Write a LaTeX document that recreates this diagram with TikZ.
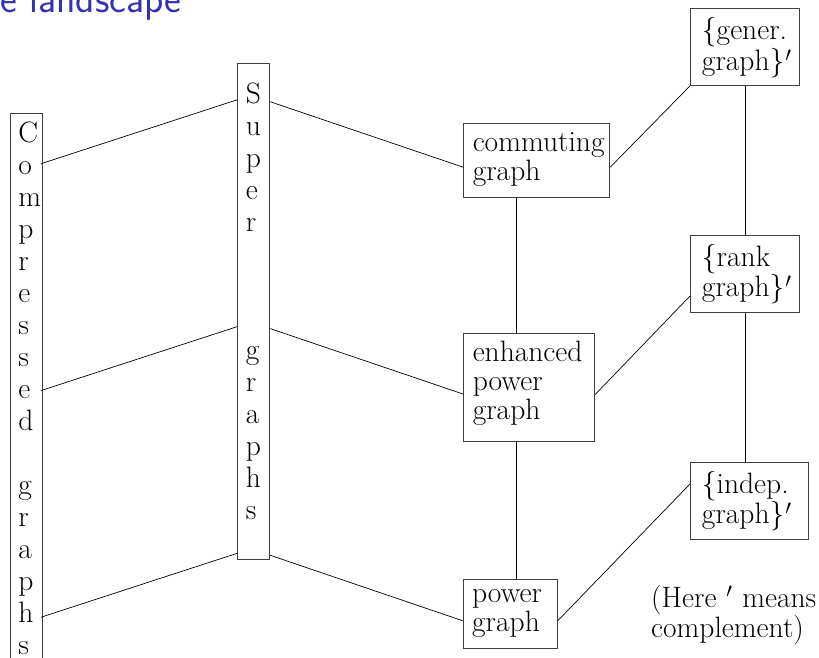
\documentclass[tikz,border=0pt]{standalone}
\usetikzlibrary{calc}
\definecolor{titleblue}{rgb}{0.2,0.2,0.7}
\hyphenpenalty=10000
\exhyphenpenalty=10000
\hfuzz=100pt

\begin{document}
\begin{tikzpicture}[x=1pt,y=-1pt,
    box/.style={draw=black!75, line width=0.9pt, anchor=north west, align=left,
      inner xsep=9pt, inner ysep=6pt, font=\fontsize{29.5}{29}\selectfont},
    primebox/.style={box, inner xsep=11.5pt},
    tallbox/.style={box, inner xsep=8pt, inner ysep=8pt, text width=16pt,
      font=\fontsize{29.5}{32}\selectfont},
    link/.style={line width=0.7pt}]
  \useasboundingbox (0,0) rectangle (819,658);
  \node[anchor=base west, inner sep=0pt, text=titleblue,
    font=\fontsize{40}{42}\sffamily] (title) at (0,13) {e landscape};
  \node[tallbox, text height=20.7pt, text depth=550pt] (comp) at (10,113.3)
    {C\\o\\m\\p\\r\\e\\s\\s\\e\\d\\\mbox{}\\g\\r\\a\\p\\h\\s};
  \node[tallbox, text height=31.7pt, text depth=448pt] (sup) at (237.3,63.3)
    {S\\u\\p\\e\\r\\\mbox{}\\\mbox{}\\\mbox{}\\g\\r\\a\\p\\h\\s};
  \node[box, text width=128pt, text height=22pt, text depth=40pt] (comm) at (463.3,123.3)
    {commuting\\graph};
  \node[box, text width=113pt, text height=21.7pt, text depth=74pt] (enh) at (463.3,333.3)
    {enhanced\\power\\graph};
  \node[box, text width=76pt, text height=16.4pt, text depth=40.6pt] (pow) at (462.7,579.3)
    {power\\graph};
  \node[primebox, text width=86pt, text height=25pt, text depth=39.7pt] (gen) at (690,8.3)
    {\{gener.\\graph\}\kern1pt$'$};
  \node[primebox, text width=86pt, text height=25pt, text depth=39.7pt] (rank) at (690,235)
    {\{rank\\graph\}\kern1pt$'$};
  \node[primebox, text width=94.7pt, text height=25pt, text depth=40.6pt] (indep) at (690,461.7)
    {\{indep.\\graph\}\kern1pt$'$};
  \node[anchor=base west, align=left, text width=170pt, inner sep=0pt,
    font=\fontsize{29.5}{29}\selectfont] (note) at (651,607)
    {(Here $'$ means\\complement)};
  \draw[link] ($(comp.east |- comm.west)+(-2,3)$) -- ($(sup.west |- comm.west)+(0,-61)$);
  \draw[link] ($(comp.east |- enh.west)+(-2,3)$) -- ($(sup.west |- enh.west)+(0,-61)$);
  \draw[link] ($(comp.east |- pow.west)+(-2,3)$) -- ($(sup.west |- pow.west)+(0,-61)$);
  \draw[link] ($(sup.east |- comm.west)+(0,-59)$) -- ($(comm.west)+(0,6.5)$);
  \draw[link] ($(sup.east |- enh.west)+(0,-59)$) -- ($(enh.west)+(0,6.5)$);
  \draw[link] ($(sup.east |- pow.west)+(0,-59)$) -- ($(pow.west)+(0,6.5)$);
  \draw[link] ([xshift=53.4pt]comm.south west) -- ([xshift=53.4pt]enh.north west);
  \draw[link] ([xshift=53.4pt]enh.south west) -- ([xshift=54pt]pow.north west);
  \draw[link] (gen.south) -- (rank.north);
  \draw[link] (rank.south) -- (rank.south |- indep.north);
  \draw[link] (comm.-5) -- (gen.south west);
  \draw[link] (enh.-6) -- (rank.202);
  \draw[link] (pow.-8) -- (indep.164);
\end{tikzpicture}
\end{document}
